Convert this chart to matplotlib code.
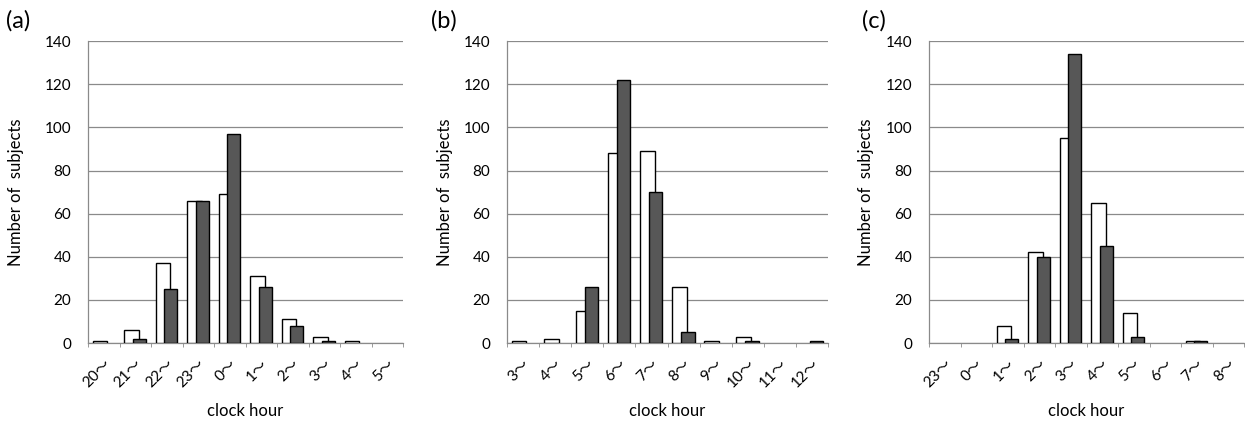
import matplotlib
matplotlib.use("Agg")
import matplotlib.pyplot as plt
import numpy as np

plt.rcParams['font.family'] = ['Lato', 'Noto Sans CJK JP', 'DejaVu Sans']

# categories (clock hour) for each panel
hours_a = ["20", "21", "22", "23", "0", "1", "2", "3", "4", "5"]
hours_b = ["3", "4", "5", "6", "7", "8", "9", "10", "11", "12"]
hours_c = ["23", "0", "1", "2", "3", "4", "5", "6", "7", "8"]

# white bars / dark bars
white_a = [1, 6, 37, 66, 69, 31, 11, 3, 1, 0]
dark_a = [0, 2, 25, 66, 97, 26, 8, 1, 0, 0]
white_b = [1, 2, 15, 88, 89, 26, 1, 3, 0, 0]
dark_b = [0, 0, 26, 122, 70, 5, 0, 1, 0, 1]
white_c = [0, 0, 8, 42, 95, 65, 14, 0, 1, 0]
dark_c = [0, 0, 2, 40, 134, 45, 3, 0, 1, 0]

panels = [
    ("(a)", hours_a, white_a, dark_a, [0.0707, 0.191, 0.253, 0.712], -0.203, (0.005, 0.95)),
    ("(b)", hours_b, white_b, dark_b, [0.4072, 0.191, 0.258, 0.712], -0.167, (0.346, 0.95)),
    ("(c)", hours_c, white_c, dark_c, [0.7462, 0.191, 0.253, 0.712], -0.175, (0.692, 0.95)),
]

grid_col = '#8a8a8a'

fig = plt.figure(figsize=(12.45, 4.24), dpi=100)

for tag, hours, white, dark, pos, ylx, tagpos in panels:
    ax = fig.add_axes(pos)
    x = np.arange(len(hours))
    w = np.array(white)
    d = np.array(dark)
    # zero counts draw nothing
    ax.bar(x[w > 0] - 0.125, w[w > 0], width=0.46, color='white',
           edgecolor='black', linewidth=1.0, zorder=3)
    ax.bar(x[d > 0] + 0.13, d[d > 0], width=0.42, color='#575757',
           edgecolor='black', linewidth=1.0, zorder=4)

    ax.set_xlim(-0.5, len(hours) - 0.5)
    ax.set_ylim(0, 140)
    ax.set_yticks(np.arange(0, 141, 20))
    ax.yaxis.grid(True, color=grid_col, linewidth=0.9)
    ax.set_axisbelow(True)

    ax.set_xticks(x)
    ax.set_xticklabels([h + "～" for h in hours], rotation=45, ha='right',
                       rotation_mode='anchor', fontsize=11)
    ax.set_xticks(np.arange(-0.5, len(hours)), minor=True)
    ax.tick_params(axis='x', which='major', length=0, pad=10)
    ax.tick_params(axis='x', which='minor', length=3, color=grid_col,
                   direction='out')
    ax.tick_params(axis='y', length=0, pad=12, labelsize=11)

    for s in ['top', 'right']:
        ax.spines[s].set_visible(False)
    for s in ['left', 'bottom']:
        ax.spines[s].set_color(grid_col)
        ax.spines[s].set_linewidth(0.9)

    ax.set_ylabel("Number of  subjects", fontsize=12)
    ax.yaxis.set_label_coords(ylx, 0.5)
    ax.set_xlabel("clock hour", fontsize=12)
    ax.xaxis.set_label_coords(0.5, -0.2)

    fig.text(tagpos[0], tagpos[1], tag, fontsize=17, va='center', ha='left')

fig.savefig("out.png", dpi=100)
